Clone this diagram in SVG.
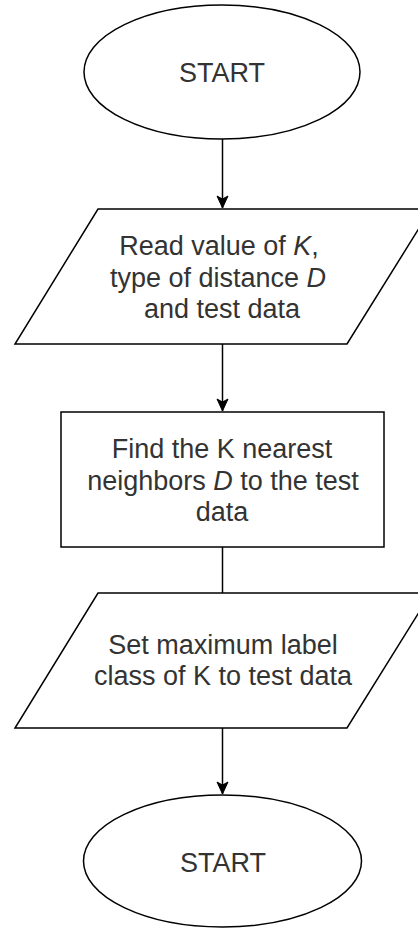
<svg xmlns="http://www.w3.org/2000/svg" width="418" height="931" viewBox="0 0 418 931">
<style>
.shape{fill:#ffffff;stroke:#000000;stroke-width:1.5}
.edge{fill:none;stroke:#000000;stroke-width:1.5}
.lbl{font-family:"Liberation Sans",Arial,sans-serif;font-size:27px;fill:#333333;text-anchor:middle}
.it{font-style:italic}
</style>
<defs>
<marker id="arr" markerUnits="userSpaceOnUse" markerWidth="14" markerHeight="14" viewBox="0 0 14 14" refX="13" refY="7" orient="auto">
<path d="M1,1.5 L13,7 L1,12.5 L4,7 Z" fill="#000000" stroke="#000000" stroke-width="1"/>
</marker>
</defs>
<rect width="418" height="931" fill="#ffffff"/>
<g id="connectors">
<line class="edge" x1="222.5" y1="139" x2="222.5" y2="208" marker-end="url(#arr)"/>
<line class="edge" x1="222.5" y1="344" x2="222.5" y2="411" marker-end="url(#arr)"/>
<line class="edge" x1="222.5" y1="547" x2="222.5" y2="593"/>
<line class="edge" x1="222.5" y1="728" x2="222.5" y2="794" marker-end="url(#arr)"/>
</g>
<g id="start">
<ellipse class="shape" cx="222" cy="72" rx="138" ry="67"/>
<text class="lbl" x="222" y="82">START</text>
</g>
<g id="read">
<polygon class="shape" points="98,209 431,209 347,344 15,344"/>
<text class="lbl" x="219" y="255">Read value of <tspan class="it">K</tspan>,</text>
<text class="lbl" x="218" y="287">type of distance <tspan class="it">D</tspan></text>
<text class="lbl" x="222" y="318">and test data</text>
</g>
<g id="find">
<rect class="shape" x="61" y="412" width="323" height="135"/>
<text class="lbl" x="222" y="458">Find the K nearest</text>
<text class="lbl" x="223" y="490">neighbors <tspan class="it">D</tspan> to the test</text>
<text class="lbl" x="222" y="521">data</text>
</g>
<g id="set">
<polygon class="shape" points="98,593 431,593 347,728 15,728"/>
<text class="lbl" x="223" y="654">Set maximum label</text>
<text class="lbl" x="223" y="685">class of K to test data</text>
</g>
<g id="end">
<ellipse class="shape" cx="222.5" cy="861" rx="139" ry="66"/>
<text class="lbl" x="223" y="872">START</text>
</g>
</svg>
